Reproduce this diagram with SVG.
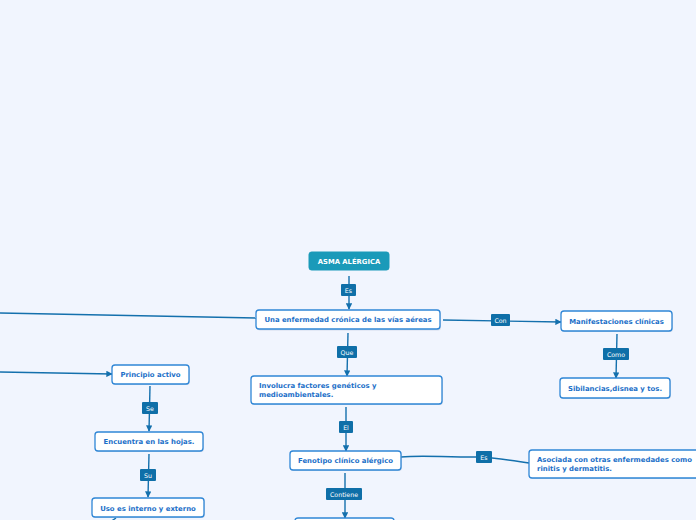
<svg xmlns="http://www.w3.org/2000/svg" width="696" height="520" viewBox="0 0 696 520">
<defs>
<marker id="arr" viewBox="0 0 10 10" refX="9" refY="5" markerWidth="4.5" markerHeight="4.5" orient="auto">
<path d="M0,0 L10,5 L0,10 z" fill="#1470ad"/>
</marker>
<style>
.bg{fill:#f1f5fe}
.node rect{fill:#ffffff;stroke:#2f86d6;stroke-width:1.3}
.node rect.shadow{fill:#9bb0c8;stroke:none;opacity:0.35}
.node text{font-family:"DejaVu Sans",Verdana,sans-serif;font-weight:bold;font-size:6.9px;fill:#1b6fc8}
.root rect{fill:#1a9ab9;stroke:#1a9ab9}
.root text{fill:#ffffff;font-family:"DejaVu Sans",Verdana,sans-serif;font-weight:bold;font-size:6.8px}
.conn path{fill:none;stroke:#1470ad;stroke-width:1.4}
.lbl rect{fill:#0f6fa8}
.lbl text{fill:#ffffff;font-family:"DejaVu Sans",Verdana,sans-serif;font-size:6.3px;text-anchor:middle}
</style>
</defs>
<rect class="bg" x="0" y="0" width="696" height="520"/>

<g id="connectors" class="conn">
<path d="M349,276 L349,309" marker-end="url(#arr)"/>
<path d="M0,313 L256,318"/>
<path d="M443,320 L561,322" marker-end="url(#arr)"/>
<path d="M617,334 L616,378" marker-end="url(#arr)"/>
<path d="M348,333 L347,376" marker-end="url(#arr)"/>
<path d="M346,407 L346,451" marker-end="url(#arr)"/>
<path d="M401,457 C420,455 440,457 476,457 C500,458 515,461 529,463"/>
<path d="M345,473 L345,518" marker-end="url(#arr)"/>
<path d="M0,372 L112,374" marker-end="url(#arr)"/>
<path d="M150,386 L149,431" marker-end="url(#arr)"/>
<path d="M149,454 L148,497" marker-end="url(#arr)"/>
<path d="M116,518 L110,522"/>
</g>

<g id="labels">
<g class="lbl"><rect x="341" y="284" width="15" height="12" rx="1"/><text x="348.5" y="292.5">Es</text></g>
<g class="lbl"><rect x="491" y="314" width="19" height="12" rx="1"/><text x="500.5" y="322.5">Con</text></g>
<g class="lbl"><rect x="603" y="348" width="26" height="12" rx="1"/><text x="616" y="356.5">Como</text></g>
<g class="lbl"><rect x="337" y="346" width="20" height="12" rx="1"/><text x="347" y="354.5">Que</text></g>
<g class="lbl"><rect x="339" y="421" width="14" height="12" rx="1"/><text x="346" y="429.5">El</text></g>
<g class="lbl"><rect x="476" y="451" width="16" height="12" rx="1"/><text x="484" y="459.5">Es</text></g>
<g class="lbl"><rect x="326" y="488" width="36" height="12" rx="1"/><text x="344" y="496.5">Contiene</text></g>
<g class="lbl"><rect x="142" y="402" width="16" height="12" rx="1"/><text x="150" y="410.5">Se</text></g>
<g class="lbl"><rect x="140" y="469" width="16" height="12" rx="1"/><text x="148" y="477.5">Su</text></g>
</g>

<g id="n-root" class="root">
<rect x="309" y="252" width="80" height="18" rx="2.5"/>
<text x="349" y="263.5" text-anchor="middle">ASMA ALÉRGICA</text>
</g>

<g id="n-enfermedad" class="node">
<rect class="shadow" x="257" y="311" width="184" height="19.5" rx="3"/>
<rect x="256" y="310" width="184" height="19" rx="3"/>
<text x="348" y="322" text-anchor="middle">Una enfermedad crónica de las vías aéreas</text>
</g>

<g id="n-manifestaciones" class="node">
<rect class="shadow" x="562" y="312" width="111" height="20" rx="3"/>
<rect x="561" y="311" width="111" height="20" rx="3"/>
<text x="616.5" y="323.5" text-anchor="middle">Manifestaciones clínicas</text>
</g>

<g id="n-sibilancias" class="node">
<rect class="shadow" x="561" y="379" width="110" height="20" rx="3"/>
<rect x="560" y="378" width="110" height="20" rx="3"/>
<text x="615" y="390.5" text-anchor="middle">Sibilancias,disnea y tos.</text>
</g>

<g id="n-involucra" class="node">
<rect class="shadow" x="252" y="377" width="191" height="28" rx="3"/>
<rect x="251" y="376" width="191" height="28" rx="3"/>
<text x="259" y="388">Involucra factores genéticos y</text>
<text x="259" y="397">medioambientales.</text>
</g>

<g id="n-fenotipo" class="node">
<rect class="shadow" x="291" y="452" width="111" height="19" rx="3"/>
<rect x="290" y="451" width="111" height="19" rx="3"/>
<text x="345.5" y="463" text-anchor="middle">Fenotipo clínico alérgico</text>
</g>

<g id="n-asociada" class="node">
<rect class="shadow" x="530" y="451" width="170" height="28" rx="3"/>
<rect x="529" y="450" width="170" height="28" rx="3"/>
<text x="537" y="462">Asociada con otras enfermedades como</text>
<text x="537" y="471">rinitis y dermatitis.</text>
</g>

<g id="n-contiene" class="node">
<rect class="shadow" x="296" y="519" width="99" height="20" rx="3"/>
<rect x="295" y="518" width="99" height="20" rx="3"/>
</g>

<g id="n-principio" class="node">
<rect class="shadow" x="113" y="366" width="77" height="19" rx="3"/>
<rect x="112" y="365" width="77" height="19" rx="3"/>
<text x="150.5" y="377" text-anchor="middle">Principio activo</text>
</g>

<g id="n-encuentra" class="node">
<rect class="shadow" x="96" y="433" width="108" height="19" rx="3"/>
<rect x="95" y="432" width="108" height="19" rx="3"/>
<text x="149" y="444" text-anchor="middle">Encuentra en las hojas.</text>
</g>

<g id="n-uso" class="node">
<rect class="shadow" x="93" y="499" width="112" height="19" rx="3"/>
<rect x="92" y="498" width="112" height="19" rx="3"/>
<text x="148" y="510.5" text-anchor="middle">Uso es interno y externo</text>
</g>
</svg>
